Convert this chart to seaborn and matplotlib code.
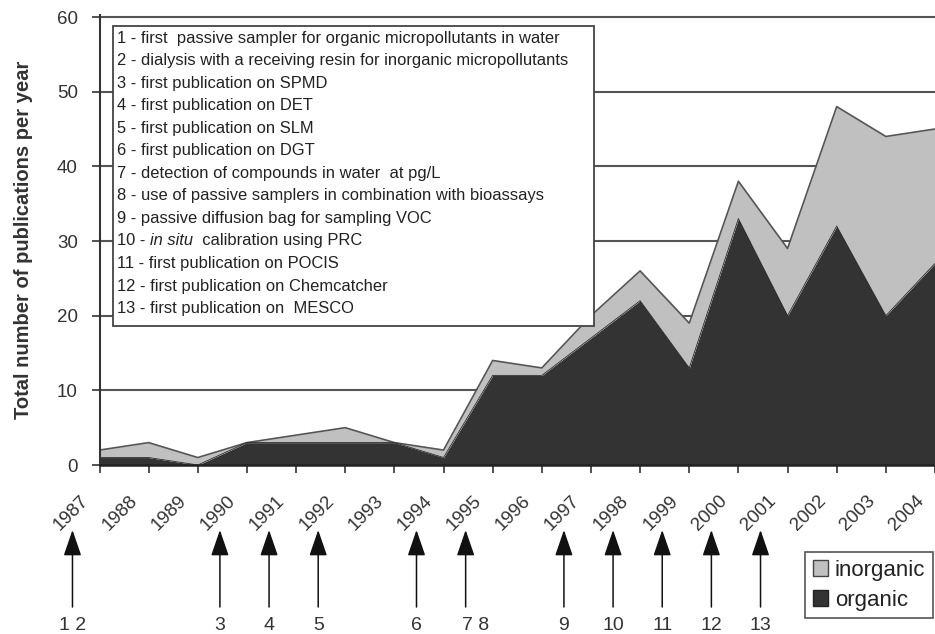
import numpy as np
import pandas as pd
import matplotlib
matplotlib.use("Agg")
import matplotlib.pyplot as plt
import matplotlib.transforms as mtransforms
from matplotlib.patches import Rectangle, Patch
import seaborn as sns

# ---------------- data ----------------
years = list(range(1987, 2005))
organic = [1, 1, 0, 3, 3, 3, 3, 1, 12, 12, 17, 22, 13, 33, 20, 32, 20, 27]
inorganic = [1, 2, 1, 0, 1, 2, 0, 1, 2, 1, 3, 4, 6, 5, 9, 16, 24, 18]

event_texts = [
    "1 - first  passive sampler for organic micropollutants in water",
    "2 - dialysis with a receiving resin for inorganic micropollutants",
    "3 - first publication on SPMD",
    "4 - first publication on DET",
    "5 - first publication on SLM",
    "6 - first publication on DGT",
    "7 - detection of compounds in water  at pg/L",
    "8 - use of passive samplers in combination with bioassays",
    "9 - passive diffusion bag for sampling VOC",
    None,  # line 10 has italic part, built below
    "11 - first publication on POCIS",
    "12 - first publication on Chemcatcher",
    "13 - first publication on  MESCO",
]
line10_parts = [("10 - ", "normal"), ("in situ", "italic"), ("  calibration using PRC", "normal")]

arrow_years = [1987, 1990, 1991, 1992, 1994, 1995, 1997, 1998, 1999, 2000, 2001]
arrow_labels = ["1 2", "3", "4", "5", "6", "7 8", "9", "10", "11", "12", "13"]

ytick_values = [0, 10, 20, 30, 40, 50, 60]
series_names = ["inorganic", "organic"]

df = pd.DataFrame({"year": years, "organic": organic, "inorganic": inorganic})
df["total"] = df["organic"] + df["inorganic"]

# ---------------- style ----------------
sns.set_theme(style="white")
plt.rcParams["font.family"] = ["Liberation Sans", "DejaVu Sans"]

W, H = 935, 634
fig = plt.figure(figsize=(W / 100, H / 100), dpi=100)
fig.patch.set_facecolor("white")

x0_px, y0_px = 99.5, 465.0
px_per_year = 49.8
ymax = 60.25
px_per_unit = 448.0 / 60.0
top_px = y0_px - ymax * px_per_unit
ax = fig.add_axes([x0_px / W, 1 - y0_px / H, 1 - x0_px / W, (y0_px - top_px) / H])
ax.set_facecolor("white")
ax.set_xlim(1987, 1987 + (W - x0_px) / px_per_year)
ax.set_ylim(0, ymax)

dark = "#333333"
light = "#c0c0c0"

# stacked areas
ax.fill_between(df["year"], 0, df["organic"], color=dark, lw=0, zorder=2)
ax.fill_between(df["year"], df["organic"], df["total"], color=light, lw=0, zorder=2)
sns.lineplot(data=df, x="year", y="total", ax=ax, color="#555555", lw=1.2, zorder=3,
             legend=False)
sns.lineplot(data=df, x="year", y="organic", ax=ax, color="#2a2a2a", lw=0.6, zorder=3,
             legend=False)

# grid / axes
ax.set_yticks(ytick_values)
ax.yaxis.grid(True, color="#555555", lw=1.5, zorder=0)
ax.set_axisbelow(True)
ax.set_xticks(years)
ax.tick_params(axis="x", direction="out", length=5.5, width=1.2, color="#333333",
               labelbottom=False, bottom=True)
ax.tick_params(axis="y", direction="out", length=5.5, width=1.2, color="#333333",
               labelsize=13.5, pad=10, labelcolor="#333333", left=True)
for s in ["top", "right"]:
    ax.spines[s].set_visible(False)
ax.spines["left"].set_color("#333333")
ax.spines["left"].set_linewidth(1.5)
ax.spines["bottom"].set_color("#222222")
ax.spines["bottom"].set_linewidth(1.8)
ax.spines["left"].set_zorder(5)
ax.spines["bottom"].set_zorder(5)

ax.set_xlabel("")
ax.set_ylabel("Total number of publications per year", fontsize=14.5,
              fontweight="bold", color="#333333")
ax.yaxis.set_label_coords(-(99 - 33) / (W - x0_px), 0.5)

# year labels (rotated, placed like the original)
blend = mtransforms.blended_transform_factory(ax.transData, fig.transFigure)
label_shift = 0.58
for yr in years:
    ax.text(yr - label_shift, 1 - 513 / H, str(yr), transform=blend, rotation=45,
            ha="center", va="center", fontsize=13.5, color="#333333", clip_on=False)

# arrows with event numbers
arrow_shift = 0.55
for yr, lab in zip(arrow_years, arrow_labels):
    xa = yr - arrow_shift
    ax.annotate("", xy=(xa, 1 - 530 / H), xytext=(xa, 1 - 607 / H),
                xycoords=blend, textcoords=blend,
                arrowprops=dict(arrowstyle="-|>,head_length=1.6,head_width=0.55",
                                color="#111111", lw=1.1, shrinkA=0, shrinkB=0,
                                mutation_scale=10),
                annotation_clip=False)
    dx = 0.2 if lab == "7 8" else 0.0
    ax.text(xa + dx, 1 - 625 / H, lab, transform=blend, ha="center", va="center",
            fontsize=14, color="#333333", clip_on=False)

# annotation box
box = Rectangle((113 / W, 1 - 326 / H), (594 - 113) / W, (326 - 26) / H,
                transform=fig.transFigure, facecolor="white", edgecolor="#444444",
                lw=1.3, zorder=10)
fig.add_artist(box)

line_y0, line_dy = 38.0, 22.55
text_x = 117
fsz = 11.9
fig.canvas.draw()
renderer = fig.canvas.get_renderer()
for i, t in enumerate(event_texts):
    ypos = 1 - (line_y0 + i * line_dy) / H
    if t is not None:
        fig.text(text_x / W, ypos, t, ha="left", va="center", fontsize=fsz,
                 color="#222222", zorder=11)
    else:
        xcur = text_x
        for part, style in line10_parts:
            tx = fig.text(xcur / W, ypos, part, ha="left", va="center", fontsize=fsz,
                          style=style, color="#222222", zorder=11)
            bb = tx.get_window_extent(renderer=renderer)
            xcur += bb.width

# legend
handles = [Patch(facecolor=light, edgecolor="#444444", lw=1.0, label=series_names[0]),
           Patch(facecolor=dark, edgecolor="#222222", lw=1.0, label=series_names[1])]
leg = fig.legend(handles=handles, loc="upper left",
                 bbox_to_anchor=(805 / W, 1 - 552 / H), bbox_transform=fig.transFigure,
                 fontsize=16, frameon=True, fancybox=False, framealpha=1,
                 edgecolor="#555555", handlelength=0.7, handleheight=0.7,
                 handletextpad=0.3, labelspacing=0.4, borderpad=0.35,
                 borderaxespad=0)
leg.get_frame().set_linewidth(1.2)
for t in leg.get_texts():
    t.set_color("#222222")

fig.savefig("out.png", dpi=100, facecolor="white")
